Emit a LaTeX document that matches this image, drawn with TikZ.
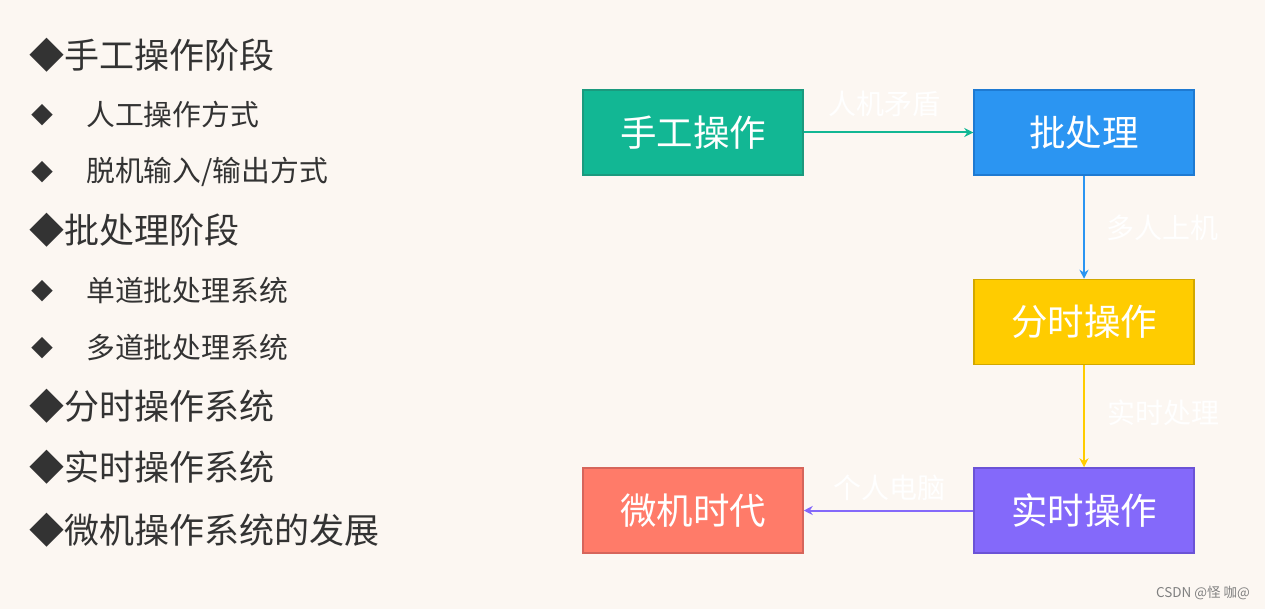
\documentclass[tikz,border=0pt]{standalone}
\usepackage{fontspec}
\setmainfont{Noto Sans CJK SC}
\usetikzlibrary{arrows.meta}
\definecolor{bgcream}{HTML}{FCF7F2}
\definecolor{txtgray}{HTML}{333333}
\definecolor{tealfill}{HTML}{12B794}
\definecolor{tealline}{HTML}{1B9A7E}
\definecolor{bluefill}{HTML}{2B95F2}
\definecolor{blueline}{HTML}{1E7AD2}
\definecolor{yellowfill}{HTML}{FFCC00}
\definecolor{yellowline}{HTML}{D2A800}
\definecolor{purplefill}{HTML}{8469FA}
\definecolor{purpleline}{HTML}{6B53D6}
\definecolor{redfill}{HTML}{FF7B69}
\definecolor{redline}{HTML}{D6655B}
\tikzset{
  stagebox/.style={draw, line width=1.5pt, minimum width=220pt, minimum height=85pt,
    inner sep=0pt, text=white, font=\fontsize{36.5}{36.5}\selectfont},
  flow/.style={line width=2pt, -{Stealth[length=9pt,width=9pt]}},
  flowlabel/.style={text=white, font=\fontsize{28}{28}\selectfont},
  bighead/.style={anchor=west, text=txtgray, inner sep=0pt, font=\fontsize{35}{35}\selectfont},
  smallitem/.style={anchor=west, text=txtgray, inner sep=0pt, font=\fontsize{28.8}{28.8}\selectfont},
  dot/.style={anchor=west, text=txtgray, inner sep=0pt, font=\fontsize{22}{22}\selectfont},
}
\begin{document}
\begin{tikzpicture}[x=1pt, y=-1pt]%
   \fill[bgcream] (0,0) rectangle (1265,609);
   \useasboundingbox (0,0) rectangle (1265,609);
   % left outline
   \node[bighead] (h1) at (29,55) {◆手工操作阶段};
   \node[dot] (d1) at (31,115) {◆};
   \node[smallitem] (s1) at (86,115) {人工操作方式};
   \node[dot] (d2) at (31,172) {◆};
   \node[smallitem] (s2) at (86,172) {脱机输入/输出方式};
   \node[bighead] (h2) at (29,230) {◆批处理阶段};
   \node[dot] (d3) at (31,291) {◆};
   \node[smallitem] (s3) at (86,291) {单道批处理系统};
   \node[dot] (d4) at (31,348) {◆};
   \node[smallitem] (s4) at (86,348) {多道批处理系统};
   \node[bighead] (h3) at (29,406) {◆分时操作系统};
   \node[bighead] (h4) at (29,467) {◆实时操作系统};
   \node[bighead] (h5) at (29,530) {◆微机操作系统的发展};
   % flow chart
   \node[stagebox, fill=tealfill, draw=tealline] (manual) at (693,132.5) {手工操作};
   \node[stagebox, fill=bluefill, draw=blueline] (batch) at (1084,132.5) {批处理};
   \node[stagebox, fill=yellowfill, draw=yellowline] (share) at (1084,322) {分时操作};
   \node[stagebox, fill=purplefill, draw=purpleline] (realtime) at (1084,510.5) {实时操作};
   \node[stagebox, fill=redfill, draw=redline] (micro) at (693,510.5) {微机时代};
   \draw[flow, tealfill] (manual) -- (batch);
   \draw[flow, bluefill] (batch) -- (share);
   \draw[flow, yellowfill] (share) -- (realtime);
   \draw[flow, purplefill] (realtime) -- (micro);
   \node[flowlabel] (l1) at (884,104) {人机矛盾};
   \node[flowlabel] (l2) at (1162,228) {多人上机};
   \node[flowlabel] (l3) at (1163,413) {实时处理};
   \node[flowlabel] (l4) at (889,488) {个人电脑};
   % watermark
   \node[text=gray, font=\fontsize{13.5}{13.5}\selectfont] (mark) at (1203,593) {CSDN @怪 咖@};
\end{tikzpicture}
\end{document}
